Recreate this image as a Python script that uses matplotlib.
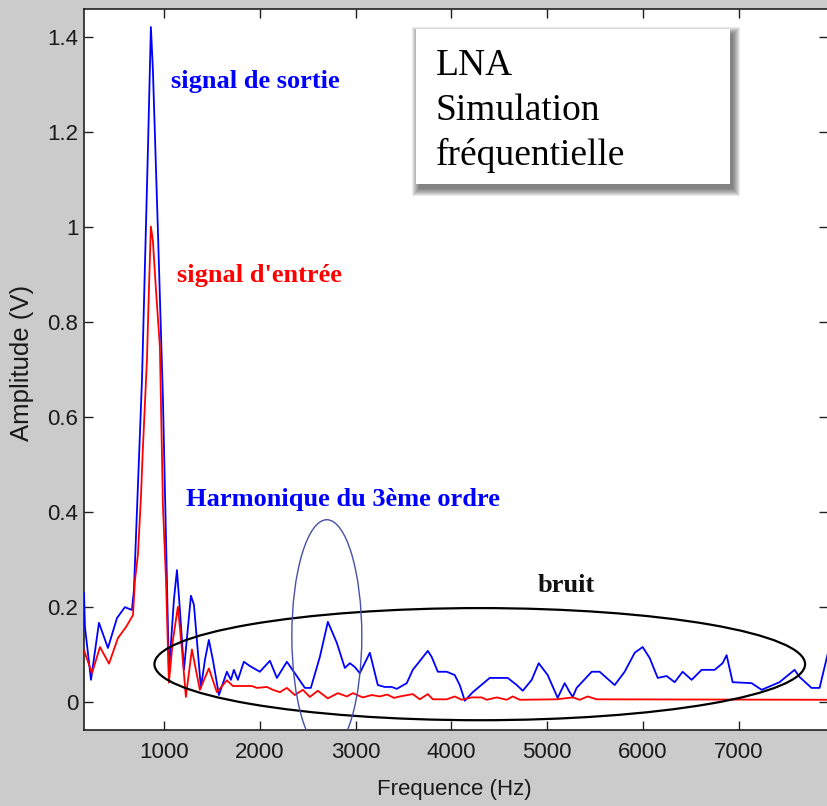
import matplotlib
matplotlib.use("Agg")
import matplotlib.pyplot as plt
from matplotlib.patches import Ellipse, Rectangle
from matplotlib import font_manager

# ---------------- data ----------------
freq_out = [166, 176, 239, 322, 416, 510, 593, 666, 687, 771, 833, 864, 885, 937, 990,
            1031, 1052, 1083, 1104, 1136, 1167, 1209, 1282, 1313, 1386, 1428, 1469, 1511,
            1574, 1657, 1699, 1730, 1772, 1834, 1897, 2001, 2106, 2179, 2283, 2366, 2471,
            2533, 2627, 2711, 2804, 2888, 2940, 2992, 3044, 3149, 3232, 3305, 3378, 3430,
            3534, 3597, 3754, 3795, 3858, 3952, 4035, 4087, 4140, 4223, 4400, 4588, 4682,
            4745, 4838, 4911, 5005, 5109, 5182, 5234, 5266, 5307, 5464, 5547, 5704, 5808,
            5913, 5996, 6069, 6153, 6246, 6330, 6413, 6507, 6611, 6747, 6830, 6872, 6935,
            7133, 7237, 7424, 7581, 7633, 7758, 7842, 7930]
amp_out = [0.229, 0.157, 0.046, 0.166, 0.113, 0.176, 0.199, 0.193, 0.235, 0.677, 1.161,
           1.420, 1.330, 0.993, 0.635, 0.256, 0.063, 0.151, 0.214, 0.277, 0.193, 0.067,
           0.223, 0.204, 0.029, 0.088, 0.130, 0.088, 0.014, 0.063, 0.046, 0.067, 0.046,
           0.084, 0.075, 0.063, 0.086, 0.050, 0.084, 0.060, 0.029, 0.029, 0.094, 0.168,
           0.124, 0.071, 0.081, 0.073, 0.060, 0.103, 0.035, 0.031, 0.031, 0.027, 0.039,
           0.067, 0.107, 0.094, 0.063, 0.063, 0.056, 0.035, 0.002, 0.020, 0.050, 0.050,
           0.035, 0.023, 0.046, 0.081, 0.056, 0.008, 0.039, 0.020, 0.010, 0.029, 0.063,
           0.063, 0.035, 0.063, 0.103, 0.115, 0.092, 0.050, 0.054, 0.041, 0.063, 0.046,
           0.067, 0.067, 0.081, 0.098, 0.041, 0.039, 0.025, 0.041, 0.067, 0.052, 0.029,
           0.029, 0.103]

freq_in = [166, 249, 333, 427, 520, 604, 677, 698, 729, 760, 781, 823, 844, 864, 885, 916,
           958, 990, 1021, 1052, 1094, 1146, 1188, 1229, 1292, 1375, 1469, 1553, 1657,
           1720, 1918, 1970, 2074, 2137, 2210, 2283, 2366, 2450, 2523, 2606, 2710, 2815,
           2909, 2971, 3076, 3169, 3252, 3330, 3400, 3462, 3597, 3670, 3754, 3806, 3952,
           4035, 4108, 4212, 4316, 4368, 4473, 4577, 4640, 4713, 5099, 5266, 5339, 5422,
           5516, 7930]
amp_in = [0.108, 0.060, 0.115, 0.080, 0.134, 0.157, 0.182, 0.256, 0.310, 0.430, 0.536,
          0.720, 0.870, 1.000, 0.970, 0.870, 0.746, 0.410, 0.260, 0.040, 0.130, 0.200,
          0.110, 0.010, 0.110, 0.025, 0.070, 0.020, 0.045, 0.033, 0.033, 0.029, 0.031,
          0.025, 0.020, 0.029, 0.014, 0.025, 0.010, 0.023, 0.007, 0.018, 0.011, 0.018,
          0.009, 0.014, 0.011, 0.015, 0.008, 0.011, 0.016, 0.005, 0.016, 0.005, 0.005,
          0.011, 0.004, 0.009, 0.009, 0.004, 0.009, 0.004, 0.011, 0.004, 0.005, 0.009,
          0.004, 0.011, 0.005, 0.004]

x_ticks = [1000, 2000, 3000, 4000, 5000, 6000, 7000]
y_ticks = [0, 0.2, 0.4, 0.6, 0.8, 1.0, 1.2, 1.4]
y_tick_labels = ["0", "0.2", "0.4", "0.6", "0.8", "1", "1.2", "1.4"]

label_out = "signal de sortie"
label_in = "signal d'entrée"
label_harm = "Harmonique du 3ème ordre"
label_noise = "bruit"
box_text = "LNA\nSimulation\nfréquentielle"

# annotation ellipses (data units)
noise_ellipse = dict(center=(4296, 0.079), width=6790, height=0.236)
harm_ellipse = dict(center=(2700, 0.138), width=730, height=0.49)

# ---------------- figure ----------------
W, H = 827, 806
fig = plt.figure(figsize=(W / 100, H / 100), dpi=100)
bg = "#cbcbcb"
fig.patch.set_facecolor(bg)

avail = {f.name for f in font_manager.fontManager.ttflist}
narrow = "Liberation Sans Narrow" if "Liberation Sans Narrow" in avail else None
sans = "Liberation Sans"
serif = "Liberation Serif"


def fx(px):
    return px / W


def fy(py):
    return 1 - py / H


ax_left, ax_right, ax_top, ax_bot = 84, 828, 9, 730
ax = fig.add_axes([fx(ax_left), fy(ax_bot), (ax_right - ax_left) / W, (ax_bot - ax_top) / H])
ax.set_facecolor("white")
ax.set_xlim(166, 7930)
ax.set_ylim(-0.0596, 1.458)

ax.plot(freq_out, amp_out, color="#0000ff", lw=1.3, zorder=3)
ax.plot(freq_in, amp_in, color="#ff0000", lw=1.3, zorder=4)

ax.add_patch(Ellipse(noise_ellipse["center"], noise_ellipse["width"], noise_ellipse["height"],
                     fill=False, edgecolor="black", lw=1.6, zorder=5))
ax.add_patch(Ellipse(harm_ellipse["center"], harm_ellipse["width"], harm_ellipse["height"],
                     fill=False, edgecolor="#4650a8", lw=1.0, zorder=5))

ax.set_xticks(x_ticks)
ax.set_yticks(y_ticks)
ax.set_yticklabels(y_tick_labels)
ax.tick_params(direction="in", length=6.5, width=1.0, top=True, right=True,
               colors="#202020", labelcolor="#1a1a1a")
ax.tick_params(axis="x", pad=9)
ax.tick_params(axis="y", pad=4)
tick_font = dict(family=[narrow] if narrow else [sans], size=17 if narrow else 16)
for lab in ax.get_xticklabels() + ax.get_yticklabels():
    lab.set_fontfamily(tick_font["family"])
    lab.set_fontsize(tick_font["size"])
for sp in ax.spines.values():
    sp.set_linewidth(1.2)
    sp.set_color("#202020")

fig.text(fx(454), fy(790), "Frequence (Hz)", ha="center", va="center",
         family=sans, fontsize=16, color="#1a1a1a")
fig.text(fx(22), fy(363), "Amplitude (V)", ha="center", va="center", rotation=90,
         family=sans, fontsize=18.5, color="#1a1a1a")

bold = dict(family=serif, fontweight="bold", fontsize=19)
fig.text(fx(171), fy(88), label_out, color="#0000ff", va="baseline", **bold)
fig.text(fx(177), fy(282), label_in, color="#ff0000", va="baseline", **bold)
fig.text(fx(186), fy(506), label_harm, color="#0000ff", va="baseline", **bold)
fig.text(fx(538), fy(592), label_noise, color="#111111", va="baseline", **bold)

# text box with soft shadow (offset down-right)
bx0, by0, bx1, by1 = 416, 29, 730, 184
offx, offy = 3, 5
for i in range(8):
    g = 7 - i
    fig.patches.append(Rectangle((fx(bx0 + offx - g), fy(by1 + offy + g)),
                                 (bx1 - bx0 + 2 * g) / W, (by1 - by0 + 2 * g) / H,
                                 transform=fig.transFigure, facecolor="#1a1a1a",
                                 edgecolor="none", alpha=0.09, zorder=8))
fig.patches.append(Rectangle((fx(bx0), fy(by1)), (bx1 - bx0) / W, (by1 - by0) / H,
                             transform=fig.transFigure, facecolor="white",
                             edgecolor="none", zorder=9))
for line, base in zip(box_text.split("\n"), [75, 120, 165]):
    fig.text(fx(436), fy(base), line, family=serif, fontsize=27, color="black",
             va="baseline", zorder=10)

fig.savefig("out.png", dpi=100, facecolor=bg)
